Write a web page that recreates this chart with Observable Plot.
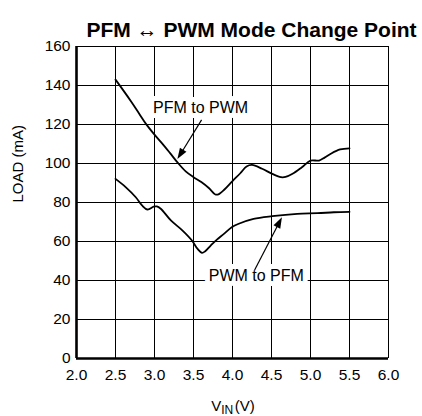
<!DOCTYPE html>
<html><head><meta charset="utf-8">
<script src="https://cdn.jsdelivr.net/npm/d3@7"></script>
<script src="https://cdn.jsdelivr.net/npm/@observablehq/plot@0.6"></script>
<style>body{margin:0;background:#fff} svg{display:block}</style>
</head><body><div id="chart"></div>
<script>
const title = "PFM ↔ PWM Mode Change Point";
const xLabelMain = "V", xLabelSub = "IN", xLabelUnit = "(V)";
const yLabel = "LOAD (mA)";
const xTicks = [2.0, 2.5, 3.0, 3.5, 4.0, 4.5, 5.0, 5.5, 6.0];
const yTicks = [0, 20, 40, 60, 80, 100, 120, 140, 160];

// PFM to PWM (upper curve)
const upV =    [2.5, 2.6, 2.7, 2.8, 2.9, 3.0, 3.1, 3.2, 3.3, 3.4, 3.5, 3.6, 3.7, 3.78, 3.82, 3.9, 4.0, 4.1, 4.18, 4.25, 4.38, 4.51, 4.62, 4.68, 4.77, 4.89, 5.0, 5.11, 5.18, 5.26, 5.38, 5.5];
const upLoad = [143, 137.5, 131.8, 125.8, 119.8, 114.8, 110.2, 105.3, 100.3, 96, 93, 90.5, 87.3, 84.1, 84.2, 86.8, 91, 95, 98.5, 99.3, 97.3, 94.7, 93, 93.1, 94.7, 98.1, 101.5, 101.5, 103, 105, 107.2, 107.8];

// PWM to PFM (lower curve)
const loV =    [2.5, 2.63, 2.76, 2.84, 2.91, 2.99, 3.03, 3.08, 3.21, 3.36, 3.48, 3.55, 3.61, 3.65, 3.72, 3.8, 3.89, 3.99, 4.08, 4.27, 4.51, 4.83, 5.09, 5.3, 5.5];
const loLoad = [92.1, 87.9, 82.7, 78.5, 76.4, 77.9, 78, 76.8, 70.8, 65.6, 60.5, 56.3, 54.2, 55, 57.9, 61, 63.9, 67.3, 69.1, 71.6, 73, 74.2, 74.5, 75, 75.2];

// annotations
const labelText = ["PFM to PWM", "PWM to PFM"];
const labelV = [3.59, 4.305];
const labelLoad = [128.5, 42.4];
const arrowFromV = [3.61, 4.29];
const arrowFromLoad = [122.1, 45.1];
const arrowToV = [3.30, 4.64];
const arrowToLoad = [102, 72.2];

const upper = upV.map((v, i) => ({v, load: upLoad[i]}));
const lower = loV.map((v, i) => ({v, load: loLoad[i]}));
const labels = labelText.map((t, i) => ({t, v: labelV[i], load: labelLoad[i]}));

const NS = "http://www.w3.org/2000/svg";

function arrowsMark(index, scales, values, dims, context) {
  const doc = (context && context.document) || document;
  const g = doc.createElementNS(NS, "g");
  for (let i = 0; i < arrowFromV.length; i++) {
    const x1 = scales.x(arrowFromV[i]), y1 = scales.y(arrowFromLoad[i]);
    const x2 = scales.x(arrowToV[i]), y2 = scales.y(arrowToLoad[i]);
    const dx = x2 - x1, dy = y2 - y1, len = Math.hypot(dx, dy);
    const ux = dx / len, uy = dy / len;
    const hl = 11, hw = 3.8;
    const bx = x2 - ux * hl, by = y2 - uy * hl;
    const line = doc.createElementNS(NS, "line");
    line.setAttribute("x1", x1); line.setAttribute("y1", y1);
    line.setAttribute("x2", bx + ux * 2); line.setAttribute("y2", by + uy * 2);
    line.setAttribute("stroke", "black"); line.setAttribute("stroke-width", 1.2);
    g.appendChild(line);
    const poly = doc.createElementNS(NS, "polygon");
    poly.setAttribute("points", `${x2},${y2} ${bx - uy * hw},${by + ux * hw} ${bx + uy * hw},${by - ux * hw}`);
    poly.setAttribute("fill", "black");
    g.appendChild(poly);
  }
  return g;
}

function xLabelMark(index, scales, values, dims, context) {
  const doc = (context && context.document) || document;
  const t = doc.createElementNS(NS, "text");
  t.setAttribute("x", (dims.marginLeft + dims.width - dims.marginRight) / 2 + 1);
  t.setAttribute("y", dims.height - 5);
  t.setAttribute("text-anchor", "middle");
  t.setAttribute("font-size", 15);
  t.setAttribute("fill", "black");
  const s1 = doc.createElementNS(NS, "tspan"); s1.textContent = xLabelMain;
  const s2 = doc.createElementNS(NS, "tspan"); s2.textContent = xLabelSub;
  s2.setAttribute("font-size", 12); s2.setAttribute("dy", 2.5);
  const s3 = doc.createElementNS(NS, "tspan"); s3.textContent = xLabelUnit;
  s3.setAttribute("dy", -2.5); s3.setAttribute("dx", 1.5);
  t.appendChild(s1); t.appendChild(s2); t.appendChild(s3);
  return t;
}

const chart = Plot.plot({
  width: 422,
  height: 416,
  marginLeft: 76,
  marginRight: 34,
  marginTop: 46,
  marginBottom: 58,
  style: {fontFamily: "'Liberation Sans', Arial, Helvetica, sans-serif", fontSize: "15.5px", color: "black", background: "white"},
  x: {domain: [2, 6]},
  y: {domain: [0, 160]},
  marks: [
    Plot.gridX(xTicks, {stroke: "black", strokeOpacity: 1, strokeWidth: 1}),
    Plot.gridY(yTicks, {stroke: "black", strokeOpacity: 1, strokeWidth: 1}),
    Plot.axisX(xTicks, {tickSize: 0, tickPadding: 10, tickFormat: d => d.toFixed(1), label: null, fontSize: 15.5}),
    Plot.axisY(yTicks, {tickSize: 0, tickPadding: 6, label: null, fontSize: 15.5}),
    Plot.ruleX([2], {stroke: "black", strokeWidth: 2.6}),
    Plot.ruleY([0], {stroke: "black", strokeWidth: 2.6}),
    Plot.text(labels, {x: "v", y: "load", text: "t", fill: "black", stroke: "white", strokeWidth: 10, paintOrder: "stroke", fontSize: 16}),
    Plot.line(upper, {x: "v", y: "load", curve: "catmull-rom", stroke: "black", strokeWidth: 1.8}),
    Plot.line(lower, {x: "v", y: "load", curve: "catmull-rom", stroke: "black", strokeWidth: 1.8}),
    arrowsMark,
    Plot.text([title], {text: d => d, frameAnchor: "top", dx: 19, dy: -24, fontSize: 21, fontWeight: "bold", fill: "black"}),
    Plot.text([yLabel], {text: d => d, frameAnchor: "left", dx: -58.5, rotate: -90, fontSize: 15, fill: "black"}),
    xLabelMark
  ]
});
document.getElementById("chart").appendChild(chart);
</script>
</body></html>
